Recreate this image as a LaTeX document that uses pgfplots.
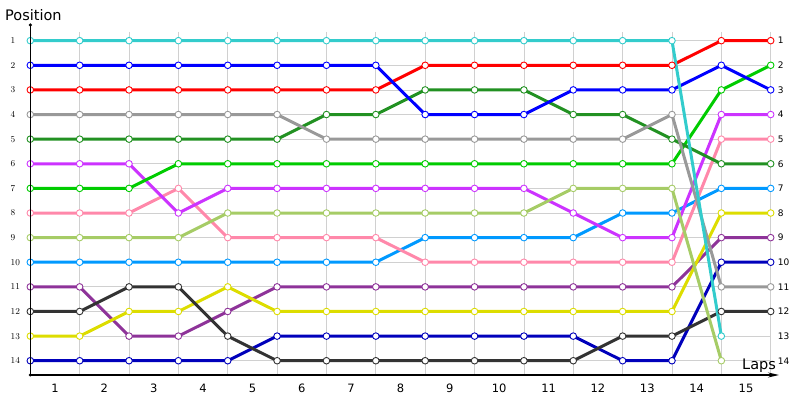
\documentclass[border=0pt]{standalone}
\usepackage{pgfplots}
\pgfplotsset{compat=1.18}
\usepackage{fontspec}
\setmainfont{DejaVu Sans}
\usetikzlibrary{arrows.meta}
\definecolor{cCyan}{RGB}{51,204,204}
\definecolor{cBlue}{RGB}{0,0,255}
\definecolor{cRed}{RGB}{255,0,0}
\definecolor{cGray}{RGB}{153,153,153}
\definecolor{cDkGreen}{RGB}{34,145,34}
\definecolor{cViolet}{RGB}{204,51,255}
\definecolor{cGreen}{RGB}{0,204,0}
\definecolor{cPink}{RGB}{255,136,170}
\definecolor{cYGreen}{RGB}{166,204,102}
\definecolor{cLtBlue}{RGB}{0,153,255}
\definecolor{cPurple}{RGB}{142,51,153}
\definecolor{cDkGray}{RGB}{51,51,51}
\definecolor{cYellow}{RGB}{221,221,0}
\definecolor{cDkBlue}{RGB}{0,0,187}
\definecolor{cGrid}{RGB}{208,208,208}
\begin{document}
\begin{tikzpicture}
\useasboundingbox (0,0) rectangle (800pt,400pt);
\begin{axis}[
  at={(30.3pt,25pt)}, anchor=south west,
  scale only axis, width=740.4pt, height=343.2pt,
  xmin=0, xmax=15, ymin=0.64, ymax=14.58,
  y dir=reverse, clip=false,
  axis line style={draw=none},
  xtick={0,...,15}, xticklabels={},
  extra x ticks={0.5,1.5,...,14.5},
  extra x tick labels={1,2,3,4,5,6,7,8,9,10,11,12,13,14,15},
  extra x tick style={grid=none, major tick length=0pt},
  xticklabel style={anchor=center, yshift=-13pt, font=\fontsize{11.5}{12}\selectfont},
  ytick={1,...,14},
  yticklabel style={anchor=west, xshift=-19.8pt, inner sep=0pt, font=\fontsize{9}{10}\selectfont},
  major tick length=0pt,
  grid=major,
  major grid style={line width=0.8pt, draw=cGrid},
  every axis plot/.append style={line width=3pt, mark=*, mark size=3.3pt,
    mark options={fill=white, line width=0.9pt}},
]
\addplot[cPurple] coordinates {(0,11)(1,11)(2,13)(3,13)(4,12)(5,11)(6,11)(7,11)(8,11)(9,11)(10,11)(11,11)(12,11)(13,11)(14,9)(15,9)};
\addplot[cYellow] coordinates {(0,13)(1,13)(2,12)(3,12)(4,11)(5,12)(6,12)(7,12)(8,12)(9,12)(10,12)(11,12)(12,12)(13,12)(14,8)(15,8)};
\addplot[cDkBlue] coordinates {(0,14)(1,14)(2,14)(3,14)(4,14)(5,13)(6,13)(7,13)(8,13)(9,13)(10,13)(11,13)(12,14)(13,14)(14,10)(15,10)};
\addplot[cDkGray] coordinates {(0,12)(1,12)(2,11)(3,11)(4,13)(5,14)(6,14)(7,14)(8,14)(9,14)(10,14)(11,14)(12,13)(13,13)(14,12)(15,12)};
\addplot[cLtBlue] coordinates {(0,10)(1,10)(2,10)(3,10)(4,10)(5,10)(6,10)(7,10)(8,9)(9,9)(10,9)(11,9)(12,8)(13,8)(14,7)(15,7)};
\addplot[cPink] coordinates {(0,8)(1,8)(2,8)(3,7)(4,9)(5,9)(6,9)(7,9)(8,10)(9,10)(10,10)(11,10)(12,10)(13,10)(14,5)(15,5)};
\addplot[cViolet] coordinates {(0,6)(1,6)(2,6)(3,8)(4,7)(5,7)(6,7)(7,7)(8,7)(9,7)(10,7)(11,8)(12,9)(13,9)(14,4)(15,4)};
\addplot[cYGreen] coordinates {(0,9)(1,9)(2,9)(3,9)(4,8)(5,8)(6,8)(7,8)(8,8)(9,8)(10,8)(11,7)(12,7)(13,7)(14,14)};
\addplot[cGreen] coordinates {(0,7)(1,7)(2,7)(3,6)(4,6)(5,6)(6,6)(7,6)(8,6)(9,6)(10,6)(11,6)(12,6)(13,6)(14,3)(15,2)};
\addplot[cRed] coordinates {(0,3)(1,3)(2,3)(3,3)(4,3)(5,3)(6,3)(7,3)(8,2)(9,2)(10,2)(11,2)(12,2)(13,2)(14,1)(15,1)};
\addplot[cDkGreen] coordinates {(0,5)(1,5)(2,5)(3,5)(4,5)(5,5)(6,4)(7,4)(8,3)(9,3)(10,3)(11,4)(12,4)(13,5)(14,6)(15,6)};
\addplot[cGray] coordinates {(0,4)(1,4)(2,4)(3,4)(4,4)(5,4)(6,5)(7,5)(8,5)(9,5)(10,5)(11,5)(12,5)(13,4)(14,11)(15,11)};
\addplot[cBlue] coordinates {(0,2)(1,2)(2,2)(3,2)(4,2)(5,2)(6,2)(7,2)(8,4)(9,4)(10,4)(11,3)(12,3)(13,3)(14,2)(15,3)};
\addplot[cCyan] coordinates {(0,1)(1,1)(2,1)(3,1)(4,1)(5,1)(6,1)(7,1)(8,1)(9,1)(10,1)(11,1)(12,1)(13,1)(14,13)};
\pgfplotsinvokeforeach{1,...,14}{
  \node[anchor=west, inner sep=0pt, font=\fontsize{9}{10}\selectfont] at (axis cs:15,#1) [xshift=7pt] {#1};
}
\end{axis}
% axis lines
\draw[line width=1.3pt, -{Stealth[length=11pt,width=5pt]}] (30.3pt,25pt) -- (779pt,25pt);
\draw[line width=1.3pt] (30.3pt,25pt) -- (30.3pt,375pt);
\fill (30.3pt,375pt) circle (1.8pt);
\fill (30.3pt,25pt) circle (1.6pt);
\node[anchor=base west, inner sep=0pt, font=\fontsize{14.5}{16}\selectfont] at (5pt,379pt) {Position};
\node[anchor=base west, inner sep=0pt, font=\fontsize{14.5}{16}\selectfont] at (742pt,31pt) {Laps};
\end{tikzpicture}
\end{document}
